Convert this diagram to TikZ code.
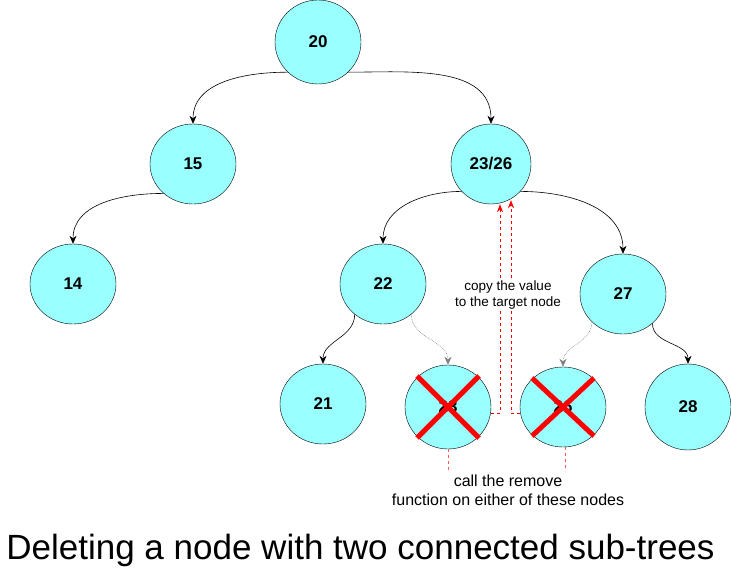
\documentclass[tikz,border=0pt]{standalone}
\usepackage{fontspec}
\setmainfont{Liberation Sans}
\usepackage{tikz}
\usetikzlibrary{shapes.geometric,arrows.meta,positioning,calc}

\definecolor{nodecyan}{HTML}{99FFFF}

\begin{document}
\begin{tikzpicture}[
    x=1pt, y=1pt,
    treenode/.style={ellipse, draw, fill=nodecyan, inner sep=0pt, minimum width=86pt, minimum height=80pt, font=\fontsize{17}{20}\selectfont\bfseries},
    link/.style={-{Stealth[length=8pt,width=7pt]}, semithick},
    faded/.style={-{Stealth[length=8pt,width=7pt]}, gray, densely dotted, semithick},
    copyline/.style={-{Stealth[length=8pt,width=6pt]}, red, dashed, semithick},
    pointer/.style={red!65, dashed, semithick},
    cross/.style={red, line width=5pt},
    note/.style={align=center, fill=white, inner sep=1pt}
]
\useasboundingbox (0,0) rectangle (731,-572);

% the tree
\node[treenode, minimum height=84pt] (n20) at (318,-42) {20};
\node[treenode] (n15) at (193,-164) {15};
\node[treenode, minimum width=80pt] (n2326) at (491,-164) {23/26};
\node[treenode] (n14) at (73,-284) {14};
\node[treenode] (n22) at (383,-284) {22};
\node[treenode] (n27) at (623,-294) {27};
\node[treenode] (n21) at (323,-404) {21};
\node[treenode, minimum height=84pt] (n23) at (448,-407) {23};
\node[treenode] (n26) at (563,-407) {26};
\node[treenode, minimum height=86pt] (n28) at (688,-407) {28};

\draw[link] (n20.225) to[out=180, in=90] (n15.north);
\draw[link] (n20.-45) to[out=0, in=90] (n2326.north);
\draw[link] (n15.225) to[out=180, in=90] (n14.north);
\draw[link] (n2326.223) to[out=180, in=90] (n22.north);
\draw[link] (n2326.-43) to[out=0, in=90] (n27.north);
\draw[link] (n22.-133) to[out=-90, in=90] (n21.north);
\draw[link] (n27.-45) to[out=-90, in=90] (n28.north);
\draw[faded] (n22.-47) to[out=-90, in=90] (n23.north);
\draw[faded] (n27.222) to[out=-90, in=90] (n26.north);

% crossed out nodes
\draw[cross] ([shift={(-31,31)}]n23.center) -- ([shift={(31,-31)}]n23.center);
\draw[cross] ([shift={(-31,-31)}]n23.center) -- ([shift={(31,31)}]n23.center);
\draw[cross] ([shift={(-31,29)}]n26.center) -- ([shift={(31,-29)}]n26.center);
\draw[cross] ([shift={(-31,-29)}]n26.center) -- ([shift={(31,29)}]n26.center);

% copy the value up
\draw[copyline] (n23.-8) -| ([xshift=9pt]n2326.south);
\draw[copyline] (n26.188) -| ([xshift=20pt,yshift=4pt]n2326.south);
\node[note, font=\fontsize{13.5}{16}\selectfont] (copynote) at (508,-295) {copy the value\\to the target node};

% remove call
\node[align=center, font=\fontsize{16}{19}\selectfont] (callnote) at (508,-490) {call the remove\\function on either of these nodes};
\draw[pointer] (n23.south) -- (n23.south |- callnote.north);
\draw[pointer] ([xshift=2pt]n26.south) -- ([xshift=2pt]n26.south |- callnote.north);

\node[font=\fontsize{35}{40}\selectfont] (title) at (360.5,-550) {Deleting a node with two connected sub-trees};

\end{tikzpicture}
\end{document}
